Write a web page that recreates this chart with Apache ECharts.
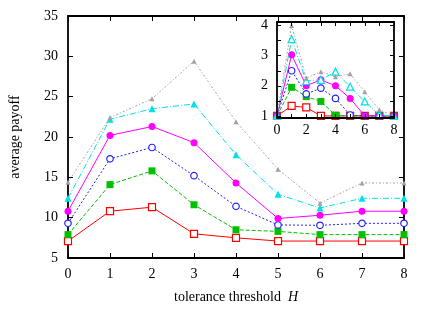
<!DOCTYPE html>
<html>
<head>
<meta charset="utf-8">
<script src="https://cdn.jsdelivr.net/npm/echarts@6/dist/echarts.min.js"></script>
<style>html,body{margin:0;padding:0;background:#fff}#c{width:436px;height:309px}</style>
</head>
<body>
<div id="c"></div>
<script>
var xValues = [0, 1, 2, 3, 4, 5, 6, 7, 8];
var mainRed     = [7.1, 10.8, 11.3, 8.0, 7.5, 7.1, 7.1, 7.1, 7.1];
var mainGreen   = [7.9, 14.1, 15.8, 11.6, 8.5, 8.3, 7.9, 7.9, 7.9];
var mainBlue    = [9.3, 17.3, 18.7, 15.2, 11.4, 9.1, 9.05, 9.3, 9.3];
var mainMagenta = [10.8, 20.2, 21.3, 19.3, 14.3, 9.9, 10.3, 10.8, 10.8];
var mainCyan    = [12.4, 22.2, 23.5, 24.1, 17.8, 12.9, 11.2, 12.4, 12.4];
var mainGray    = [14.4, 22.4, 24.75, 29.4, 21.9, 16.0, 11.8, 14.3, 14.3];

var insetRed     = [1.0, 1.33, 1.28, 1.0, 1.0, 1.0, 1.0, 1.0, 1.0];
var insetGreen   = [1.0, 1.95, 1.64, 1.48, 1.02, 1.0, 1.0, 1.0, 1.0];
var insetBlue    = [1.0, 2.5, 1.73, 1.92, 1.58, 1.03, 1.0, 1.0, 1.0];
var insetMagenta = [1.0, 3.03, 2.0, 2.2, 2.0, 1.58, 1.0, 1.0, 1.0];
var insetCyan    = [1.0, 3.55, 2.16, 2.2, 2.47, 1.97, 1.48, 1.03, 1.0];
var insetGray    = [1.0, 4.0, 2.25, 2.47, 2.3, 2.4, 1.8, 1.2, 1.0];

var mainYTicks = [5, 10, 15, 20, 25, 30, 35];
var insetYLabels = [1, 2, 3, 4];
var insetYTicks = [1, 1.5, 2, 2.5, 3, 3.5, 4];

function pairs(vals) { return xValues.map(function (x, i) { return [x, vals[i]]; }); }

var FONT = 'Liberation Serif';
var styles = [
  {color: '#ff0000', symbol: 'rect', empty: true, size: 7, type: 'solid'},
  {color: '#00c000', symbol: 'rect', empty: false, size: 7, type: [4, 2]},
  {color: '#2222ff', symbol: 'circle', empty: true, size: 6.5, type: [2, 2]},
  {color: '#ff00ff', symbol: 'circle', empty: false, size: 7, type: 'solid'},
  {color: '#00e0e8', symbol: 'triangle', empty: false, size: 7, type: [6, 2, 1, 2]},
  {color: '#a0a0a0', symbol: 'triangle', empty: false, size: 5, type: [2, 2, 1, 2]}
];
var mainData = [mainRed, mainGreen, mainBlue, mainMagenta, mainCyan, mainGray];
var insetData = [insetRed, insetGreen, insetBlue, insetMagenta, insetCyan, insetGray];

function mkSeries(data, xi, yi, z, inset) {
  return data.map(function (vals, k) {
    var s = styles[k];
    var empty = s.empty || (inset && k === 4);
    return {
      type: 'line', xAxisIndex: xi, yAxisIndex: yi, z: z + k,
      data: pairs(vals), symbol: s.symbol, symbolSize: s.size, clip: false,
      showSymbol: true, animation: false,
      lineStyle: {color: s.color, width: 1, type: s.type},
      itemStyle: empty ? {color: '#ffffff', borderColor: s.color, borderWidth: 1.2}
                       : {color: s.color, borderWidth: 0}
    };
  });
}

var axisLine = {show: true, onZero: false, lineStyle: {color: '#000', width: 1.8}};
var labelStyle = {color: '#000', fontFamily: FONT, fontSize: 14};

var option = {
  backgroundColor: '#fff',
  animation: false,
  grid: [
    {left: 67, right: 32, top: 16, bottom: 50, show: false},
    {left: 277, right: 42, top: 22, bottom: 191, show: true, backgroundColor: '#fff', borderWidth: 0, z: 10}
  ],
  xAxis: [
    {gridIndex: 0, type: 'value', min: 0, max: 8, interval: 1, position: 'bottom',
     axisLine: axisLine, axisTick: {inside: true, length: 5, lineStyle: {color: '#000'}},
     axisLabel: Object.assign({margin: 9}, labelStyle), splitLine: {show: false},
     name: '{t|tolerance threshold  }{h|H}', nameLocation: 'middle', nameGap: 32,
     nameTextStyle: {rich: {t: {fontFamily: FONT, fontSize: 14, color: '#000'},
                            h: {fontFamily: FONT, fontSize: 14, color: '#000', fontStyle: 'italic'}}}},
    {gridIndex: 0, type: 'value', min: 0, max: 8, interval: 1, position: 'top',
     axisLine: axisLine, axisTick: {inside: true, length: 5, lineStyle: {color: '#000'}},
     axisLabel: {show: false}, splitLine: {show: false}},
    {gridIndex: 1, type: 'value', min: 0, max: 8, interval: 1, position: 'bottom', z: 20,
     axisLine: axisLine, axisTick: {inside: true, length: 4, lineStyle: {color: '#000'}},
     axisLabel: Object.assign({margin: 5, formatter: function (v) { return v % 2 === 0 ? String(v) : ''; }}, labelStyle),
     splitLine: {show: false}},
    {gridIndex: 1, type: 'value', min: 0, max: 8, interval: 1, position: 'top', z: 20,
     axisLine: axisLine, axisTick: {inside: true, length: 4, lineStyle: {color: '#000'}},
     axisLabel: {show: false}, splitLine: {show: false}}
  ],
  yAxis: [
    {gridIndex: 0, type: 'value', min: 5, max: 35, interval: 5, position: 'left',
     axisLine: axisLine, axisTick: {inside: true, length: 5, lineStyle: {color: '#000'}},
     axisLabel: Object.assign({margin: 10, customValues: mainYTicks}, labelStyle), splitLine: {show: false},
     name: 'average payoff', nameLocation: 'middle', nameGap: 46,
     nameTextStyle: {fontFamily: FONT, fontSize: 14, color: '#000'}},
    {gridIndex: 0, type: 'value', min: 5, max: 35, interval: 5, position: 'right',
     axisLine: axisLine, axisTick: {inside: true, length: 5, lineStyle: {color: '#000'}},
     axisLabel: {show: false}, splitLine: {show: false}},
    {gridIndex: 1, type: 'value', min: 0.93, max: 4.12, position: 'left', z: 20,
     axisLine: axisLine,
     axisTick: {inside: true, length: 4, customValues: insetYTicks, lineStyle: {color: '#000'}},
     axisLabel: Object.assign({margin: 9, customValues: insetYLabels}, labelStyle), splitLine: {show: false}},
    {gridIndex: 1, type: 'value', min: 0.93, max: 4.12, position: 'right', z: 20,
     axisLine: axisLine,
     axisTick: {inside: true, length: 4, customValues: insetYTicks, lineStyle: {color: '#000'}},
     axisLabel: {show: false}, splitLine: {show: false}}
  ],
  series: mkSeries(mainData, 0, 0, 2, false).concat(mkSeries(insetData, 2, 2, 12, true))
};

var chart = echarts.init(document.getElementById('c'), null, {renderer: 'canvas'});
chart.setOption(option);
</script>
</body>
</html>
